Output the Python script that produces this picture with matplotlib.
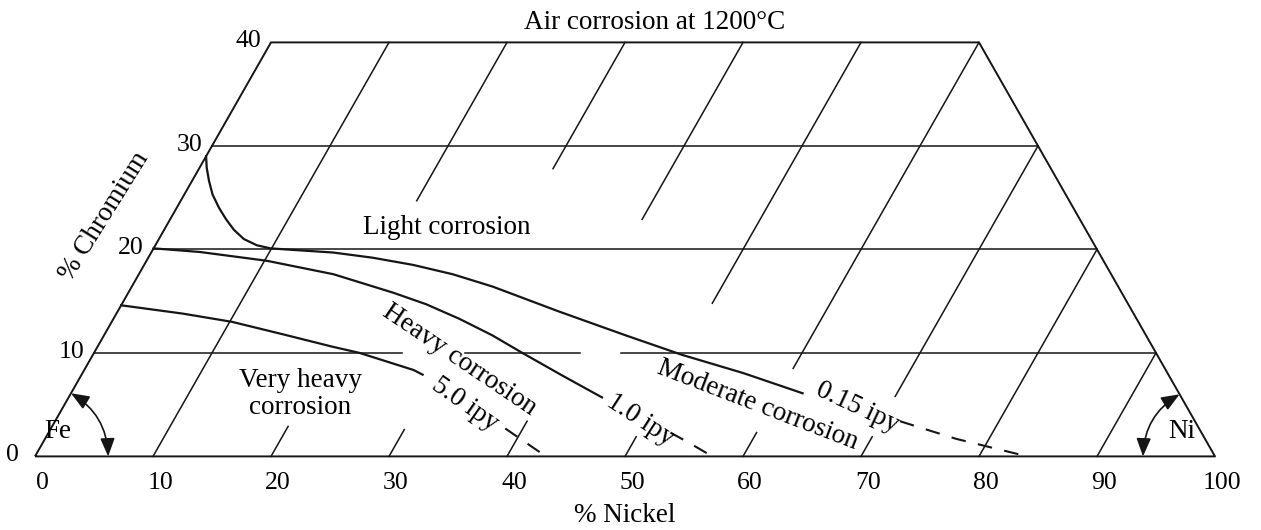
"""Air corrosion of Fe-Ni-Cr alloys at 1200 C, drawn as a cut ternary diagram."""

import matplotlib
matplotlib.use("Agg")
from matplotlib import pyplot as plt
from matplotlib.patches import FancyArrowPatch
import numpy as np

# axis ticks
ni_ticks = [0, 10, 20, 30, 40, 50, 60, 70, 80, 90, 100]
cr_ticks = [0, 10, 20, 30, 40]

# iso-nickel grid lines (Ni, Cr from, Cr to), broken where the labels sit
grid_ni = [10, 20, 20, 30, 30, 40, 40, 50, 50, 60, 60, 70, 70, 80, 90]
grid_ni_cr_from = [0, 0, 24.7, 0, 27.8, 0, 22.9, 0, 14.8, 0, 8.5, 0, 5.8, 0, 0]
grid_ni_cr_to = [40, 2.9, 40, 2.6, 40, 3.4, 40, 1.9, 40, 2.3, 40, 1.9, 30, 20, 10]

# iso-chromium grid lines (Cr, Ni from, Ni to)
grid_cr = [10, 10, 10, 20, 30]
grid_cr_ni_from = [0, 31.4, 44.7, 0, 0]
grid_cr_ni_to = [26.1, 41.2, 90, 80, 70]

# 0.15 ipy line, starting with the light corrosion boundary at 30 % Cr
ipy015_ni = [0, 0.6, 1.45, 2.4, 3.6, 4.75, 5.9, 7.2, 8.6, 9.9, 11.9, 15.4,
             19.0, 22.8, 26.6, 30.6, 37.4, 44.2, 49.9, 56.0, 62.0]
ipy015_cr = [29.0, 27.9, 26.6, 25.3, 24.0, 22.9, 21.9, 21.0, 20.4, 20.1, 19.95, 19.7,
             19.2, 18.5, 17.6, 16.4, 14.0, 11.7, 9.82, 8.05, 6.1]
ipy015_dash_ni = [71.6, 77.2, 84.1]
ipy015_dash_cr = [3.4, 1.7, 0]

# 1.0 ipy line
ipy1_ni = [0, 4.1, 10.2, 16.5, 22.5, 25.8, 29.3, 32.9, 36.3, 40.6, 45.2]
ipy1_cr = [20.1, 19.75, 18.9, 17.6, 15.8, 14.7, 13.3, 11.7, 10.0, 7.9, 5.7]
ipy1_dash_ni = [52.7, 55.0, 57.4]
ipy1_dash_cr = [2.3, 1.2, 0]

# 5.0 ipy line
ipy5_ni = [0, 5.6, 10.2, 15.1, 19.9, 22.5, 27.9, 28.9]
ipy5_cr = [14.6, 13.8, 13.0, 11.8, 10.6, 10.0, 8.35, 7.9]
ipy5_dash_ni = [38.5, 43.3]
ipy5_dash_cr = [2.7, 0]


def tern(ni, cr):
    """Map (% Ni, % Cr) to plane coordinates of the ternary triangle."""
    ni = np.asarray(ni, dtype=float)
    cr = np.asarray(cr, dtype=float)
    return ni + 0.5 * cr, cr


def plot_corrosion_diagram(fname: str = "out.png") -> None:
    plt.rcParams["font.family"] = ["Liberation Serif", "DejaVu Serif"]
    fig = plt.figure(figsize=(12.61, 5.30), dpi=100)
    ax = fig.add_axes([0, 0, 1, 1])
    ax.set_xlim(-35 / 11.8, (1261 - 35) / 11.8)
    ax.set_ylim(-(530 - 456.4) / 10.35, 456.4 / 10.35)
    ax.axis("off")

    ink = "#151515"
    fs = 18.5   # tick labels
    fl = 19.5   # other texts

    # outline of the cut triangle
    x, y = tern([0, 100, 60, 0, 0], [0, 0, 40, 40, 0])
    ax.plot(x, y, color=ink, lw=1.4, solid_capstyle="butt")

    # grid
    for ni, c0, c1 in zip(grid_ni, grid_ni_cr_from, grid_ni_cr_to):
        x, y = tern([ni, ni], [c0, c1])
        ax.plot(x, y, color=ink, lw=1.1)
    for cr, n0, n1 in zip(grid_cr, grid_cr_ni_from, grid_cr_ni_to):
        x, y = tern([n0, n1], [cr, cr])
        ax.plot(x, y, color=ink, lw=1.1)

    # iso-corrosion lines
    for ni, cr, dni, dcr in [
        (ipy015_ni, ipy015_cr, ipy015_dash_ni, ipy015_dash_cr),
        (ipy1_ni, ipy1_cr, ipy1_dash_ni, ipy1_dash_cr),
        (ipy5_ni, ipy5_cr, ipy5_dash_ni, ipy5_dash_cr),
    ]:
        x, y = tern(ni, cr)
        ax.plot(x, y, color=ink, lw=1.6, solid_joinstyle="round")
        x, y = tern(dni, dcr)
        ax.plot(x, y, color=ink, lw=1.5, dashes=(7, 6))

    # tick labels
    for ni in ni_ticks:
        ax.text(ni + 0.6, -2.6, str(ni), ha="center", va="center", fontsize=fs)
    for cr in cr_ticks:
        ax.text(cr / 2 - 1.9, cr + 0.1, str(cr), ha="center", va="center", fontsize=fs)

    ax.text(50, -5.7, "% Nickel", ha="center", va="center", fontsize=fl)
    ax.text(5.85, 23.2, "% Chromium", ha="center", va="center", fontsize=fl,
            rotation=58, rotation_mode="anchor")
    ax.text(52.5, 41.9, "Air corrosion at 1200°C", ha="center", va="center", fontsize=fl)

    # region and line labels
    ax.text(34.9, 22.1, "Light corrosion", ha="center", va="center", fontsize=fl)
    ax.text(22.5, 6.0, "Very heavy\ncorrosion", ha="center", va="center", fontsize=fl,
            linespacing=1.1)
    labels = [
        (36.0, 9.3, "Heavy corrosion", -34),
        (36.4, 5.0, "5.0 ipy", -35),
        (51.3, 3.5, "1.0 ipy", -33),
        (61.2, 5.0, "Moderate corrosion", -21),
        (69.7, 4.7, "0.15 ipy", -25),
    ]
    for lx, ly, txt, rot in labels:
        ax.text(lx, ly, txt, ha="center", va="center", fontsize=fl,
                rotation=rot, rotation_mode="anchor")

    # corner arrows
    ax.text(1.95, 2.4, "Fe", ha="center", va="center", fontsize=fl)
    ax.text(97.2, 2.4, "Ni", ha="center", va="center", fontsize=fl)
    style = "<|-|>,head_length=0.55,head_width=0.22"
    for pa, pb, rad in [
        (tern(6.2, 0), tern(0, 6.1), 0.27),
        (tern(93.9, 0), tern(94, 6), -0.27),
    ]:
        arr = FancyArrowPatch(pa, pb, connectionstyle=f"arc3,rad={rad}",
                              arrowstyle=style, mutation_scale=20, lw=1.2,
                              color=ink, shrinkA=0, shrinkB=0)
        ax.add_patch(arr)

    fig.savefig(fname, dpi=100, facecolor="white")


if __name__ == "__main__":
    plot_corrosion_diagram("out.png")
